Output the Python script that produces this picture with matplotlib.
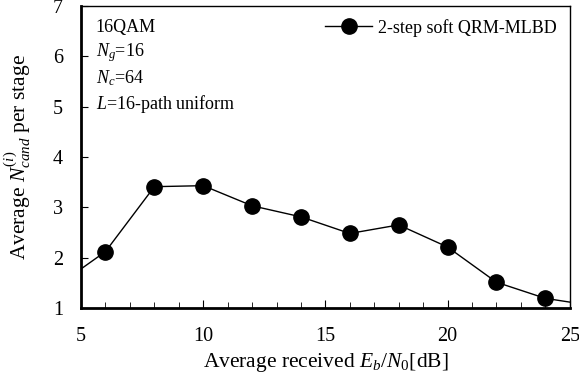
import matplotlib
matplotlib.use('Agg')
import matplotlib.pyplot as plt
from matplotlib.ticker import MultipleLocator

# Serif fonts to resemble Times
matplotlib.rcParams['font.family'] = 'Liberation Serif'
matplotlib.rcParams['mathtext.fontset'] = 'custom'
matplotlib.rcParams['mathtext.rm'] = 'Liberation Serif'
matplotlib.rcParams['mathtext.it'] = 'Liberation Serif:italic'

# Data (points at 4 and 26 lie outside the axes)
ebn0 = [4, 6, 8, 10, 12, 14, 16, 18, 20, 22, 24, 26]
ncand = [1.43, 2.12, 3.41, 3.43, 3.03, 2.81, 2.48, 2.65, 2.21, 1.51, 1.19, 1.04]
label = '2-step soft QRM-MLBD'
notes = ['16QAM', '$N_g$=16', '$N_c$=64', '$L$=16-path uniform']

fig = plt.figure(figsize=(5.79, 3.82), dpi=100)
ax = fig.add_axes([0.14, 0.194, 0.844, 0.79])

ax.plot(ebn0, ncand, 'k-', marker='o', markersize=11, linewidth=1, label=label)

ax.set_xlim(5, 25)
ax.set_ylim(1, 7)
ax.xaxis.set_major_locator(MultipleLocator(5))
ax.xaxis.set_minor_locator(MultipleLocator(1))
ax.yaxis.set_major_locator(MultipleLocator(1))
ax.tick_params(which='both', direction='in', labelsize=14.5)
ax.tick_params(axis='x', which='major', length=6, pad=14)
ax.tick_params(axis='x', which='minor', length=4)
ax.tick_params(axis='y', length=5, pad=13)
for side in ['left', 'bottom']:
    ax.spines[side].set_linewidth(2)
for side in ['top', 'right']:
    ax.spines[side].set_linewidth(1)

ax.set_xlabel('Average received $E_b$/$N_0$[dB]', fontsize=15.5, labelpad=3)
ax.set_ylabel('Average $N_{cand}^{(i)}$ per stage', fontsize=15.5, labelpad=14)

for i, t in enumerate(notes):
    ax.text(0.03, 0.93 - i * 0.085, t, transform=ax.transAxes, fontsize=13, va='center')

ax.legend(loc='upper right', frameon=False, fontsize=13, handlelength=2.6,
          handletextpad=0.35, borderaxespad=0.3)

plt.savefig('out.png', dpi=100)
